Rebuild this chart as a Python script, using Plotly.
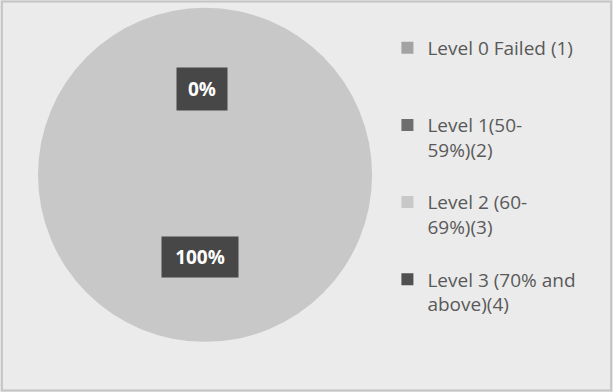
import plotly.graph_objects as go

labels = ["Level 0 Failed (1)", "Level 1(50-<br>59%)(2)", "Level 2 (60-<br>69%)(3)", "Level 3 (70% and<br>above)(4)"]
values = [0, 0, 100, 0]
colors = ["#a3a3a3", "#6e6e6e", "#c8c8c8", "#505050"]
shown_labels = ["0%", "100%"]

legend_labels = [labels[0] + "<br> <br> "] + [l + "<br> " for l in labels[1:]]

fig = go.Figure()
fig.add_trace(go.Pie(
    labels=legend_labels,
    values=values,
    marker=dict(colors=colors, line=dict(width=0)),
    sort=False,
    direction="clockwise",
    textinfo="none",
    hoverinfo="label+percent",
    domain=dict(x=[0.062, 0.607], y=[0.128, 0.98]),
    showlegend=True,
))

fig.add_annotation(x=202 / 613, y=1 - 89 / 392, xref="paper", yref="paper",
                   xanchor="center", yanchor="middle",
                   text="<b>" + shown_labels[0] + "</b>", showarrow=False,
                   font=dict(family="Open Sans", size=19, color="white"),
                   bgcolor="#474747", borderpad=0, width=50, height=42)
fig.add_annotation(x=200 / 613, y=1 - 257 / 392, xref="paper", yref="paper",
                   xanchor="center", yanchor="middle",
                   text="<b>" + shown_labels[1] + "</b>", showarrow=False,
                   font=dict(family="Open Sans", size=19, color="white"),
                   bgcolor="#474747", borderpad=0, width=76, height=40)

fig.add_shape(type="rect", xref="paper", yref="paper", x0=0.003, y0=0.004, x1=0.997, y1=0.996,
              line=dict(color="#c4c4c4", width=2), fillcolor="rgba(0,0,0,0)")

fig.update_layout(
    width=613, height=392,
    margin=dict(l=0, r=0, t=0, b=0),
    paper_bgcolor="#ebebeb",
    plot_bgcolor="#ebebeb",
    legend=dict(
        x=0.632, y=1 - 29 / 392, xanchor="left", yanchor="top",
        valign="top",
        font=dict(family="Open Sans", size=19, color="#595959"),
        bgcolor="rgba(0,0,0,0)",
        itemwidth=30,
    ),
)

fig.write_html("out.html", config={"displayModeBar": False},
               post_script="document.body.style.margin='0';")
